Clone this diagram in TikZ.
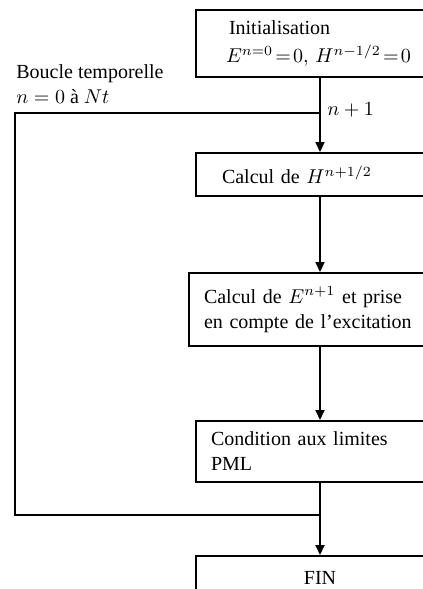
\documentclass[tikz,border=0pt]{standalone}
\usepackage{fontspec}
\setmainfont{Liberation Serif}
\usetikzlibrary{positioning,arrows.meta}
\tikzset{
  stage/.style={draw, line width=1pt, anchor=north, align=left, minimum width=124pt},
  flow/.style={->, line width=1pt},
  >={Triangle[length=5pt,width=4.5pt]}
}

\begin{document}
\begin{tikzpicture}[x=0.5pt, y=-0.5pt, font=\fontsize{10}{12.5}\selectfont]
        \useasboundingbox (0,0) rectangle (423,589);
        \node[stage, inner xsep=15pt, text width=94pt, minimum height=33.5pt] (init) at (320,9)
          {\hspace*{1.5pt}Initialisation\\[1.5pt]
           \mbox{\thickmuskip=2mu plus 1mu $E^{n=0}=0,\,H^{n-1/2}=0$}};
        \node[stage, below=37pt of init, inner xsep=13pt, text width=98pt, minimum height=21.5pt] (calcH)
          {Calcul de $H^{n+1/2}$};
        \node[stage, below=37.5pt of calcH, inner xsep=7.5pt, text width=116pt, minimum height=36.5pt] (calcE)
          {Calcul de $E^{n+1}$ et prise\\en compte de l’excitation};
        \node[stage, below=36.5pt of calcE, inner xsep=7.5pt, text width=109pt, minimum height=30.5pt] (pml)
          {Condition aux limites\\PML};
        \node[stage, below=36pt of pml, align=center, inner xsep=7pt, text width=110pt, minimum height=21.5pt] (fin)
          {FIN};
        % boucle en temps
        \coordinate (loopin) at ([yshift=-17.5pt]init.south);
        \coordinate (loopout) at ([yshift=-16pt]pml.south);
        \coordinate (loopx) at (15,0);
        \node[anchor=north west, inner sep=0pt, align=left] (looplabel) at (16,64)
          {Boucle temporelle\\$n=0$ à $Nt$};
        \node[anchor=base west, inner sep=0pt] (steplabel) at ([xshift=3.5pt,yshift=-1pt]loopin) {$n+1$};
        \path[flow] (init) edge (calcH);
        \path[flow] (calcH) edge (calcE);
        \path[flow] (calcE) edge (pml);
        \path[flow] (pml) edge (fin);
        \draw[line width=1pt] (loopout) -- (loopout -| loopx) -- (loopin -| loopx) -- (loopin);
      \end{tikzpicture}
\end{document}
